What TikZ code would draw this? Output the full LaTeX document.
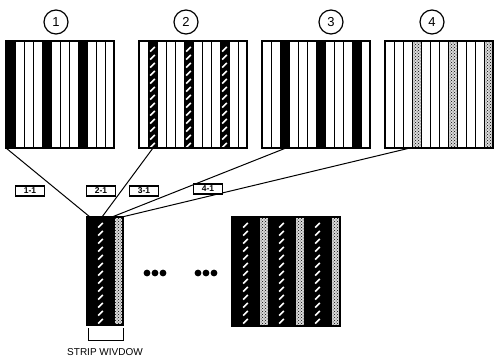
\documentclass[tikz,border=0pt]{standalone}
\usepackage{fontspec}
\setmainfont{Liberation Sans}
\usetikzlibrary{patterns}

\begin{document}
\begin{tikzpicture}[x=1pt,y=-1pt,
    plain/.style={draw,line width=1pt,fill=white},
    dark/.style={draw,line width=1pt,fill=black},
    speck/.style={draw,line width=1pt,preaction={fill=gray!30},pattern=crosshatch dots},
    slashes/.pic={\foreach \y in {6,14,...,102} \draw[white,line width=1.6pt] (2.2,\y+4.5) -- (6.8,\y);},
    tag/.style={draw,line width=1.4pt,fill=white,minimum width=29pt,minimum height=10pt,inner sep=0pt,font=\fontsize{8.5}{8.5}\selectfont\bfseries},
    num/.style={circle,draw,line width=1.2pt,minimum size=24pt,inner sep=0pt,font=\fontsize{13}{13}\selectfont}]
\useasboundingbox (0,0) rectangle (494,358);

% numbers over the images
\node[num] (n1) at (56,22) {1};
\node[num] (n2) at (186,22) {2};
\node[num] (n3) at (331,22) {3};
\node[num] (n4) at (432,22) {4};

% four images of 12 strips
\foreach \bx in {6,139,262,385}
  \foreach \s in {0,...,11}
    \draw[plain] (\bx+9*\s,41) rectangle +(9,107);
\foreach \s in {0,4,8}{
  \draw[dark] (6+9*\s,41) rectangle +(9,107);
  \draw[dark] (148+9*\s,41) rectangle +(9,107);
  \pic at (148+9*\s,41) {slashes};
  \draw[dark] (280+9*\s,41) rectangle +(9,107);
  \draw[speck] (412+9*\s,41) rectangle +(9,107);
}
\foreach \bx in {6,139,262,385}
  \draw[line width=1.4pt] (\bx,41) rectangle +(108,107);

% strip window
\draw[dark] (87,217) rectangle +(9,108);
\draw[dark] (96,217) rectangle +(9,108);
\pic at (96,217) {slashes};
\draw[dark] (105,217) rectangle +(9,108);
\draw[speck] (114,217) rectangle +(9,108);
\draw[line width=1.4pt] (87,217) rectangle +(36,108);

% combined image
\foreach \s in {0,4,8}{
  \draw[dark] (232+9*\s,217) rectangle +(9,109);
  \draw[dark] (241+9*\s,217) rectangle +(9,109);
  \pic at (241+9*\s,217) {slashes};
  \draw[dark] (250+9*\s,217) rectangle +(9,109);
  \draw[speck] (259+9*\s,217) rectangle +(9,109);
}
\draw[line width=1.4pt] (232,217) rectangle +(108,109);

% connectors
\coordinate (a1) at (6,148);
\coordinate (a2) at (153,148);
\coordinate (a3) at (286,148);
\coordinate (a4) at (410,148);
\coordinate (w1) at (90,217);
\coordinate (w2) at (102,217);
\coordinate (w3) at (112,217);
\coordinate (w4) at (122,217);
\draw[line width=1pt] (a1) -- (w1);
\draw[line width=1pt] (a2) -- (w2);
\draw[line width=1pt] (a3) -- (w3);
\draw[line width=1pt] (a4) -- (w4);

\node[tag] (t1) at (30,191) {1-1};
\node[tag] (t2) at (101,191) {2-1};
\node[tag] (t3) at (144,191) {3-1};
\node[tag] (t4) at (208,189) {4-1};

% dots
\foreach \x in {147,155,163} \fill (\x,273) circle (3.4);
\foreach \x in {198,206,214} \fill (\x,273) circle (3.4);

% bracket
\draw[line width=1pt] (88,328) |- (123,340) -- (123,328);
\node[font=\fontsize{10}{10}\selectfont] (cap) at (105,352) {STRIP WIVDOW};
\end{tikzpicture}
\end{document}
